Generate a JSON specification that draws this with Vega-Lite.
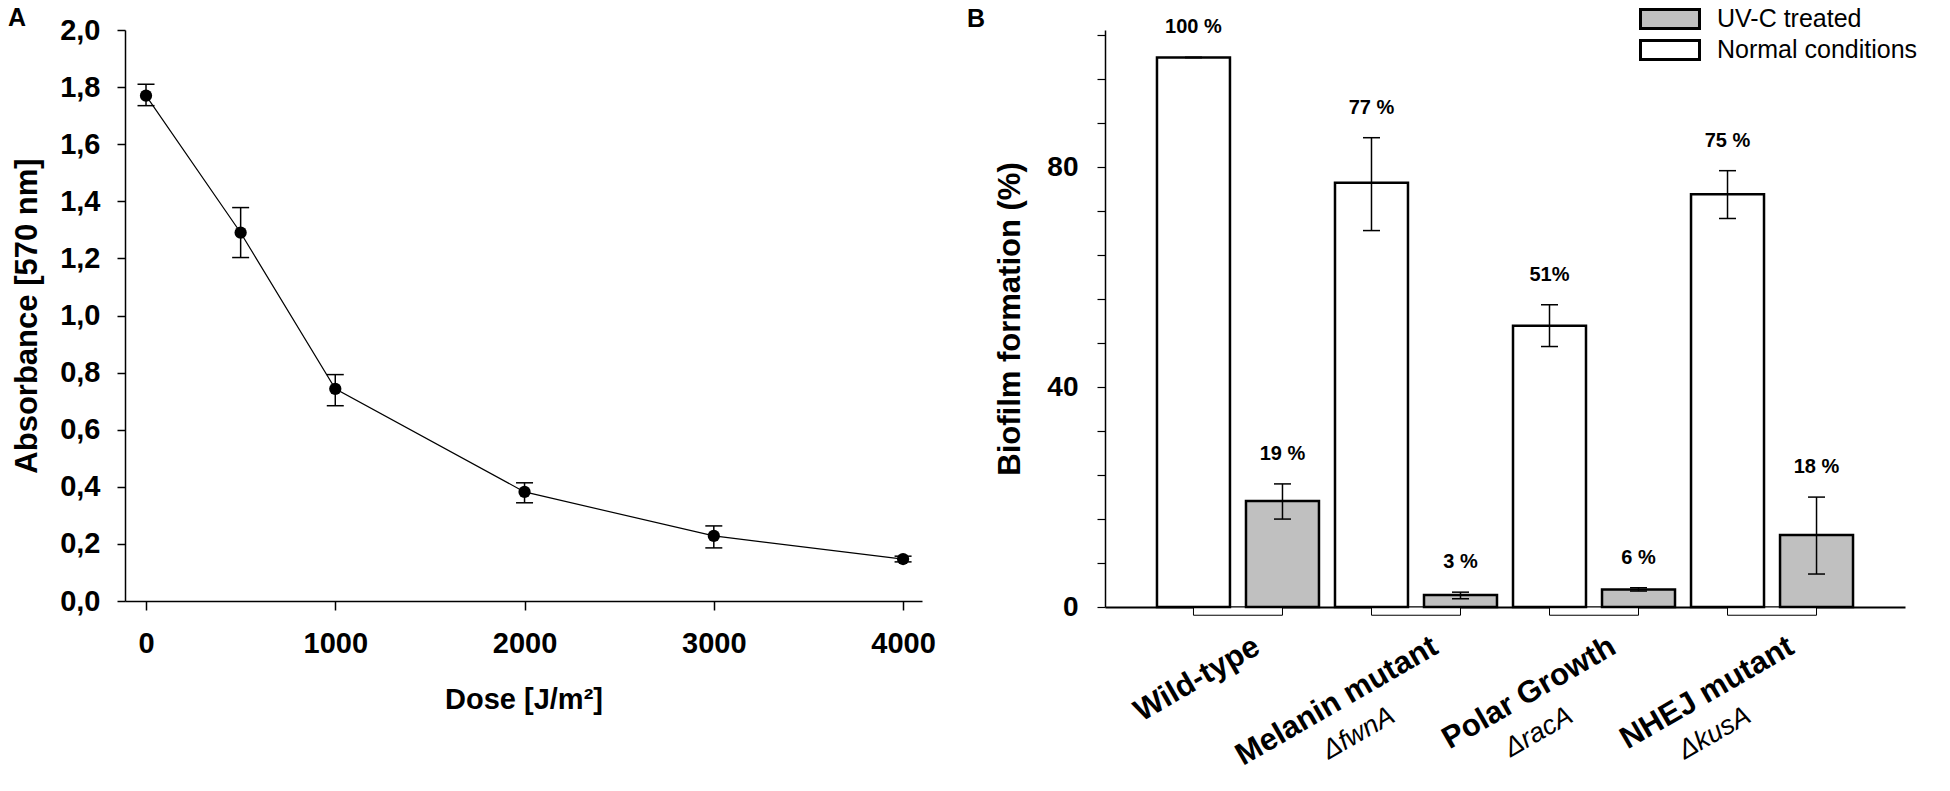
{
  "$schema": "https://vega.github.io/schema/vega-lite/v6.json",
  "background": "white",
  "padding": {"left": 8, "top": 4, "right": 0, "bottom": 0},
  "autosize": {"type": "pad"},
  "bounds": "flush",
  "spacing": 183,
  "config": {
    "view": {"stroke": null},
    "font": "Liberation Sans",
    "axis": {
      "labelFont": "Liberation Sans", "titleFont": "Liberation Sans",
      "labelColor": "black", "titleColor": "black",
      "domainColor": "black", "tickColor": "black",
      "grid": false, "labelFontWeight": "bold", "titleFontWeight": "bold",
      "labelOverlap": false
    },
    "title": {"font": "Liberation Sans", "fontSize": 25, "fontWeight": "bold", "anchor": "start", "frame": "group", "color": "black"},
    "legend": {
      "orient": "none", "legendX": 1530, "legendY": -26, "title": null,
      "symbolType": "M-2.2,-0.7H2.2V0.7H-2.2Z", "symbolSize": 719,
      "symbolStrokeColor": "black", "symbolStrokeWidth": 3,
      "labelFont": "Liberation Sans", "labelFontSize": 25, "labelFontWeight": "normal",
      "labelColor": "black", "labelOffset": 32, "rowPadding": -3, "padding": 0, "labelLimit": 0
    }
  },
  "datasets": {
    "dose": [
      {"dose": 0, "abs": 1.77, "lo": 1.735, "hi": 1.81},
      {"dose": 500, "abs": 1.29, "lo": 1.203, "hi": 1.378},
      {"dose": 1000, "abs": 0.743, "lo": 0.684, "hi": 0.793},
      {"dose": 2000, "abs": 0.382, "lo": 0.344, "hi": 0.414},
      {"dose": 3000, "abs": 0.228, "lo": 0.186, "hi": 0.263},
      {"dose": 4000, "abs": 0.147, "lo": 0.137, "hi": 0.157}
    ],
    "biofilm": [
      {"group": "Wild-type", "cond": "Normal conditions", "value": 100, "lo": 100, "hi": 100, "label": "100 %"},
      {"group": "Wild-type", "cond": "UV-C treated", "value": 19.3, "lo": 16.0, "hi": 22.4, "label": "19 %"},
      {"group": "Melanin mutant", "cond": "Normal conditions", "value": 77.2, "lo": 68.5, "hi": 85.4, "label": "77 %"},
      {"group": "Melanin mutant", "cond": "UV-C treated", "value": 2.2, "lo": 1.5, "hi": 2.7, "label": "3 %"},
      {"group": "Polar Growth", "cond": "Normal conditions", "value": 51.2, "lo": 47.4, "hi": 55.0, "label": "51%"},
      {"group": "Polar Growth", "cond": "UV-C treated", "value": 3.2, "lo": 2.9, "hi": 3.5, "label": "6 %"},
      {"group": "NHEJ mutant", "cond": "Normal conditions", "value": 75.1, "lo": 70.7, "hi": 79.4, "label": "75 %"},
      {"group": "NHEJ mutant", "cond": "UV-C treated", "value": 13.1, "lo": 6.0, "hi": 20.0, "label": "18 %"}
    ]
  },
  "hconcat": [
    {
      "title": {"text": "A", "dx": -117, "offset": -35, "baseline": "alphabetic"},
      "width": 797,
      "height": 571,
      "data": {"name": "dose"},
      "encoding": {
        "x": {
          "field": "dose", "type": "quantitative",
          "scale": {"domain": [-111, 4100], "nice": false, "zero": false},
          "axis": {
            "values": [0, 1000, 2000, 3000, 4000], "format": "d",
            "title": "Dose [J/m²]", "titleFontSize": 29, "titlePadding": 27,
            "labelFontSize": 29, "labelPadding": 19, "tickSize": 9,
            "tickWidth": 1.5, "domainWidth": 1.5, "labelFlush": false
          }
        }
      },
      "layer": [
        {
          "mark": {"type": "line", "color": "black", "strokeWidth": 1.2},
          "encoding": {
            "y": {
              "field": "abs", "type": "quantitative", "title": "Absorbance [570 nm]",
              "scale": {"domain": [0, 2], "nice": false},
              "axis": {
                "values": [0, 0.2, 0.4, 0.6, 0.8, 1.0, 1.2, 1.4, 1.6, 1.8, 2.0],
                "labelExpr": "replace(format(datum.value, '.1f'), '.', ',')",
                "labelFontSize": 29, "labelPadding": 17, "tickSize": 8,
                "tickWidth": 1.5, "domainWidth": 1.5,
                "titleFontSize": 31, "titlePadding": 16
              }
            }
          }
        },
        {
          "mark": {"type": "rule", "color": "black", "strokeWidth": 1.5},
          "encoding": {
            "y": {"field": "lo", "type": "quantitative", "title": "Absorbance [570 nm]"},
            "y2": {"field": "hi"}
          }
        },
        {
          "mark": {"type": "tick", "color": "black", "thickness": 1.5, "size": 17, "orient": "horizontal", "opacity": 1},
          "encoding": {"y": {"field": "lo", "type": "quantitative", "title": "Absorbance [570 nm]"}}
        },
        {
          "mark": {"type": "tick", "color": "black", "thickness": 1.5, "size": 17, "orient": "horizontal", "opacity": 1},
          "encoding": {"y": {"field": "hi", "type": "quantitative", "title": "Absorbance [570 nm]"}}
        },
        {
          "mark": {"type": "point", "shape": "circle", "filled": true, "color": "black", "size": 150, "opacity": 1},
          "encoding": {"y": {"field": "abs", "type": "quantitative", "title": "Absorbance [570 nm]"}}
        }
      ]
    },
    {
      "title": {"text": "B", "dx": -138, "offset": -35, "baseline": "alphabetic"},
      "width": 800,
      "height": 577,
      "data": {"name": "biofilm"},
      "layer": [
        {
          "transform": [{"filter": {"field": "cond", "equal": "Normal conditions"}}],
          "mark": {"type": "bar", "width": 89, "fill": "white", "stroke": "black", "strokeWidth": 1},
          "encoding": {
            "x": {
              "field": "group", "type": "nominal",
              "sort": ["Wild-type", "Melanin mutant", "Polar Growth", "NHEJ mutant"],
              "scale": {"paddingInner": 0.09, "paddingOuter": 0.292},
              "axis": {
                "title": null, "orient": "bottom", "domain": false, "ticks": false, "tickSize": 0,
                "labelAngle": -30, "labelAlign": "right", "labelBaseline": "top",
                "labelFontSize": 27, "labelFontStyle": "italic", "labelFontWeight": "normal",
                "labelPadding": 95, "labelOffset": -30, "labelLimit": 0,
                "labelExpr": "datum.label == 'Melanin mutant' ? 'ΔfwnA' : datum.label == 'Polar Growth' ? 'ΔracA' : datum.label == 'NHEJ mutant' ? 'ΔkusA' : ''"
              }
            },
            "y": {
              "datum": 0, "type": "quantitative", "title": "Biofilm formation (%)",
              "scale": {"domain": [0, 105], "nice": false},
              "axis": {
                "values": [0, 4, 8, 12, 16, 20, 24, 28, 32, 36, 40, 44, 48, 52, 56, 60, 64, 68, 72, 76, 80, 84, 88, 92, 96, 100, 104],
                "labelExpr": "datum.value % 20 === 0 ? datum.label : ''",
                "labelFontSize": 28, "labelPadding": 19, "tickSize": 8,
                "tickWidth": 1.2, "domainWidth": 1.5,
                "titleFontSize": 31, "titlePadding": 20
              }
            },
            "y2": {"datum": -1.5}
          }
        },
        {
          "mark": {"type": "bar", "stroke": "black", "strokeWidth": 2.5},
          "encoding": {
            "x": {
              "field": "group", "type": "nominal",
              "sort": ["Wild-type", "Melanin mutant", "Polar Growth", "NHEJ mutant"],
              "scale": {"paddingInner": 0.09, "paddingOuter": 0.292},
              "axis": {
                "title": null, "orient": "bottom", "ticks": false, "tickSize": 0,
                "labelAngle": -30, "labelAlign": "right", "labelBaseline": "top",
                "labelFontSize": 31, "labelPadding": 24, "labelOffset": 12, "labelLimit": 0,
                "domainWidth": 2
              }
            },
            "xOffset": {
              "field": "cond", "type": "nominal", "sort": ["Normal conditions", "UV-C treated"],
              "scale": {"paddingInner": 0.18, "paddingOuter": 0}
            },
            "y": {
              "field": "value", "type": "quantitative", "title": "Biofilm formation (%)",
              "scale": {"domain": [0, 105], "nice": false},
              "axis": {
                "values": [0, 4, 8, 12, 16, 20, 24, 28, 32, 36, 40, 44, 48, 52, 56, 60, 64, 68, 72, 76, 80, 84, 88, 92, 96, 100, 104],
                "labelExpr": "datum.value % 20 === 0 ? datum.label : ''",
                "labelFontSize": 28, "labelPadding": 19, "tickSize": 8,
                "tickWidth": 1.2, "domainWidth": 1.5,
                "titleFontSize": 31, "titlePadding": 20
              }
            },
            "fill": {
              "field": "cond", "type": "nominal",
              "scale": {"domain": ["UV-C treated", "Normal conditions"], "range": ["#c0c0c0", "#ffffff"]}
            }
          }
        },
        {
          "mark": {"type": "rule", "color": "black", "strokeWidth": 1.5},
          "encoding": {
            "x": {"field": "group", "type": "nominal", "sort": ["Wild-type", "Melanin mutant", "Polar Growth", "NHEJ mutant"], "scale": {"paddingInner": 0.09, "paddingOuter": 0.292}, "axis": null},
            "xOffset": {"field": "cond", "type": "nominal", "sort": ["Normal conditions", "UV-C treated"], "scale": {"paddingInner": 0.18, "paddingOuter": 0}},
            "y": {"field": "lo", "type": "quantitative", "title": "Biofilm formation (%)"},
            "y2": {"field": "hi"}
          }
        },
        {
          "mark": {"type": "tick", "color": "black", "thickness": 1.5, "size": 17, "opacity": 1},
          "encoding": {
            "x": {"field": "group", "type": "nominal", "sort": ["Wild-type", "Melanin mutant", "Polar Growth", "NHEJ mutant"], "scale": {"paddingInner": 0.09, "paddingOuter": 0.292}, "axis": null},
            "xOffset": {"field": "cond", "type": "nominal", "sort": ["Normal conditions", "UV-C treated"], "scale": {"paddingInner": 0.18, "paddingOuter": 0}},
            "y": {"field": "lo", "type": "quantitative", "title": "Biofilm formation (%)"}
          }
        },
        {
          "mark": {"type": "tick", "color": "black", "thickness": 1.5, "size": 17, "opacity": 1},
          "encoding": {
            "x": {"field": "group", "type": "nominal", "sort": ["Wild-type", "Melanin mutant", "Polar Growth", "NHEJ mutant"], "scale": {"paddingInner": 0.09, "paddingOuter": 0.292}, "axis": null},
            "xOffset": {"field": "cond", "type": "nominal", "sort": ["Normal conditions", "UV-C treated"], "scale": {"paddingInner": 0.18, "paddingOuter": 0}},
            "y": {"field": "hi", "type": "quantitative", "title": "Biofilm formation (%)"}
          }
        },
        {
          "mark": {"type": "text", "font": "Liberation Sans", "fontSize": 20, "fontWeight": "bold", "baseline": "middle", "dy": -30, "color": "black"},
          "encoding": {
            "x": {"field": "group", "type": "nominal", "sort": ["Wild-type", "Melanin mutant", "Polar Growth", "NHEJ mutant"], "scale": {"paddingInner": 0.09, "paddingOuter": 0.292}, "axis": null},
            "xOffset": {"field": "cond", "type": "nominal", "sort": ["Normal conditions", "UV-C treated"], "scale": {"paddingInner": 0.18, "paddingOuter": 0}},
            "y": {"field": "hi", "type": "quantitative", "title": "Biofilm formation (%)"},
            "text": {"field": "label"}
          }
        }
      ],
      "resolve": {"axis": {"x": "independent"}}
    }
  ]
}
